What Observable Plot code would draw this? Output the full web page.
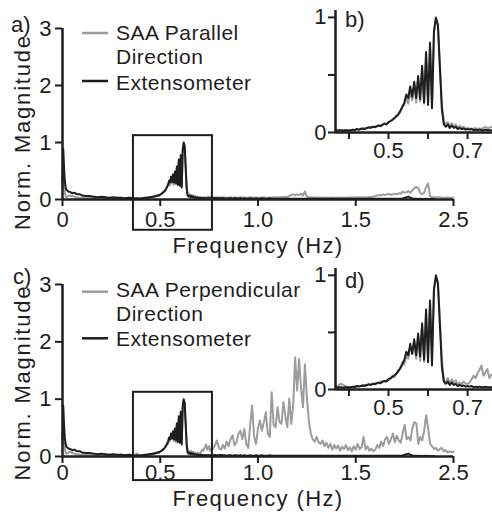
<!DOCTYPE html>
<html><head><meta charset="utf-8">
<script src="https://cdn.jsdelivr.net/npm/d3@7"></script>
<script src="https://cdn.jsdelivr.net/npm/@observablehq/plot@0.6"></script>
<style>
body{margin:0;background:#fff;}
#chart{position:relative;width:492px;height:520px;overflow:hidden;}
#chart svg{position:absolute;left:0;}
.leg{position:absolute;left:116px;font-family:'Liberation Sans',Arial,Helvetica,sans-serif;font-size:21px;line-height:24px;letter-spacing:0.5px;color:#1e1e1e;white-space:nowrap;}
</style></head><body><div id="chart"></div>
<script>
// ---------- data ----------
const freqLow = [0, 0.004, 0.008, 0.012, 0.016, 0.02, 0.03, 0.04, 0.05, 0.06, 0.07, 0.08, 0.09, 0.10, 0.12, 0.14, 0.16, 0.18, 0.20, 0.22, 0.24, 0.26, 0.28, 0.30, 0.32, 0.34];
const freqMid = d3.range(72, 153).map(i => i * 0.005);   // 0.360 .. 0.760 sampling
const freqHigh = d3.range(77, 201).map(i => i / 100);    // 0.77 .. 2.00 sampling

const extLow = [0.30, 0.88, 0.55, 0.32, 0.22, 0.17, 0.14, 0.13, 0.11, 0.12, 0.10, 0.09, 0.09, 0.07, 0.06, 0.06, 0.05, 0.04, 0.05, 0.04, 0.03, 0.04, 0.03, 0.03, 0.02, 0.03];
const extMid = [0.02, 0.02, 0.015, 0.02, 0.02, 0.015, 0.02, 0.02, 0.015, 0.02,
  0.025, 0.02, 0.03, 0.025, 0.03, 0.035, 0.03, 0.04, 0.045, 0.04,
  0.05, 0.045, 0.055, 0.06, 0.055, 0.07, 0.075, 0.07, 0.09, 0.10,
  0.11, 0.125, 0.14, 0.16, 0.19, 0.22, 0.26, 0.33, 0.30, 0.40,
  0.31, 0.44, 0.30, 0.49, 0.29, 0.58, 0.26, 0.70, 0.24, 0.78,
  0.21, 0.88, 1.00, 0.93, 0.56, 0.20, 0.07, 0.05, 0.07, 0.04,
  0.06, 0.04, 0.05, 0.03, 0.04, 0.03, 0.035, 0.025, 0.03, 0.025,
  0.03, 0.02, 0.025, 0.02, 0.025, 0.02, 0.02, 0.025, 0.02, 0.02, 0.02];
const extHigh = [0.02, 0.025, 0.02, 0.02, 0.025, 0.02, 0.02, 0.015, 0.02, 0.02, 0.015, 0.02, 0.02, 0.015, 0.02, 0.015, 0.02, 0.015, 0.015, 0.02, 0.015, 0.015, 0.02,
  0.015, 0.015, 0.02, 0.015, 0.015, 0.015, 0.02, 0.015, 0.015, 0.015,
  0.015, 0.015, 0.012, 0.015, 0.015, 0.012, 0.015, 0.015, 0.012, 0.015,
  0.015, 0.012, 0.015, 0.012, 0.015, 0.012, 0.012, 0.015, 0.012, 0.012,
  0.012, 0.015, 0.012, 0.012, 0.012, 0.015, 0.012, 0.012, 0.012, 0.012,
  0.012, 0.012, 0.015, 0.012, 0.012, 0.012, 0.012, 0.012, 0.015, 0.012,
  0.012, 0.012, 0.012, 0.012, 0.012, 0.012, 0.012, 0.015, 0.012, 0.012,
  0.012, 0.012, 0.012, 0.012, 0.012, 0.012, 0.015, 0.012, 0.012, 0.012,
  0.012, 0.012, 0.012, 0.012, 0.02, 0.03, 0.04, 0.05, 0.03, 0.02,
  0.012, 0.012, 0.01, 0.012, 0.01, 0.01, 0.012, 0.01, 0.01, 0.01,
  0.01];

const parLow = [0.20, 0.62, 0.30, 0.12, 0.06, 0.04, 0.06, 0.07, 0.06, 0.05, 0.04, 0.03, 0.03, 0.03, 0.02, 0.03, 0.02, 0.03, 0.02, 0.03, 0.02, 0.02, 0.03, 0.02, 0.02, 0.03];
const parMid = [0.03, 0.02, 0.025, 0.02, 0.015, 0.02, 0.02, 0.015, 0.02, 0.02,
  0.02, 0.025, 0.03, 0.02, 0.035, 0.03, 0.035, 0.04, 0.04, 0.045,
  0.05, 0.05, 0.05, 0.065, 0.06, 0.065, 0.08, 0.075, 0.085, 0.10,
  0.11, 0.12, 0.15, 0.15, 0.18, 0.23, 0.24, 0.30, 0.25, 0.36,
  0.28, 0.42, 0.26, 0.47, 0.27, 0.55, 0.25, 0.68, 0.26, 0.76,
  0.24, 0.86, 0.99, 0.94, 0.60, 0.24, 0.09, 0.08, 0.09, 0.06,
  0.08, 0.05, 0.07, 0.04, 0.06, 0.04, 0.05, 0.03, 0.04, 0.03,
  0.035, 0.03, 0.04, 0.03, 0.035, 0.03, 0.04, 0.05, 0.04, 0.04, 0.05];
const parHigh = [0.04, 0.03, 0.04, 0.035, 0.03, 0.04, 0.03, 0.035, 0.03, 0.04, 0.03, 0.035, 0.03, 0.03, 0.04, 0.03, 0.035, 0.03, 0.03, 0.04, 0.03, 0.035, 0.03,
  0.03, 0.035, 0.03, 0.04, 0.03, 0.03, 0.035, 0.03, 0.04, 0.035,
  0.04, 0.035, 0.045, 0.04, 0.05, 0.04, 0.06, 0.08, 0.09, 0.07,
  0.09, 0.08, 0.10, 0.07, 0.14, 0.05, 0.04, 0.035, 0.04, 0.03,
  0.035, 0.03, 0.035, 0.03, 0.03, 0.035, 0.03, 0.03, 0.035, 0.03,
  0.03, 0.035, 0.03, 0.03, 0.035, 0.03, 0.03, 0.04, 0.03, 0.035,
  0.03, 0.04, 0.035, 0.04, 0.03, 0.04, 0.035, 0.045, 0.04, 0.05,
  0.06, 0.07, 0.08, 0.07, 0.09, 0.08, 0.09, 0.10, 0.08, 0.09,
  0.10, 0.09, 0.11, 0.10, 0.14, 0.12, 0.13, 0.15, 0.12, 0.16,
  0.20, 0.22, 0.20, 0.12, 0.09, 0.12, 0.22, 0.28, 0.06, 0.04,
  0.04, 0.035, 0.04, 0.03, 0.035, 0.03, 0.03, 0.035, 0.03, 0.03,
  0.03];

const perpLow = [0.20, 0.55, 0.28, 0.12, 0.07, 0.05, 0.07, 0.08, 0.06, 0.05, 0.04, 0.04, 0.03, 0.03, 0.03, 0.02, 0.03, 0.02, 0.03, 0.02, 0.03, 0.02, 0.02, 0.03, 0.02, 0.03];
const perpMid = [0.02, 0.025, 0.03, 0.04, 0.05, 0.04, 0.03, 0.02, 0.025, 0.02,
  0.02, 0.03, 0.025, 0.03, 0.03, 0.035, 0.04, 0.035, 0.05, 0.04,
  0.05, 0.055, 0.05, 0.06, 0.07, 0.065, 0.07, 0.08, 0.085, 0.09,
  0.12, 0.11, 0.14, 0.17, 0.18, 0.24, 0.22, 0.30, 0.27, 0.37,
  0.33, 0.42, 0.27, 0.47, 0.25, 0.56, 0.24, 0.67, 0.28, 0.76,
  0.30, 0.87, 0.98, 0.93, 0.62, 0.26, 0.08, 0.06, 0.10, 0.05,
  0.09, 0.06, 0.08, 0.05, 0.06, 0.05, 0.07, 0.05, 0.05, 0.06,
  0.09, 0.12, 0.10, 0.14, 0.17, 0.21, 0.12, 0.15, 0.18, 0.10, 0.13];
const perpHigh = [0.13, 0.20, 0.28, 0.15, 0.12, 0.20, 0.14, 0.26, 0.18, 0.30, 0.37, 0.19, 0.25, 0.40, 0.45, 0.30, 0.48, 0.22, 0.15, 0.55, 0.89, 0.35, 0.22,
  0.50, 0.63, 0.45, 0.60, 0.77, 0.40, 0.34, 1.12, 0.55, 0.51,
  0.86, 0.60, 0.57, 0.95, 0.70, 0.51, 1.01, 0.57, 0.90, 1.73,
  1.15, 1.70, 1.20, 0.86, 1.61, 1.03, 0.63, 0.40, 0.30, 0.26,
  0.34, 0.25, 0.22, 0.28, 0.18, 0.24, 0.15, 0.22, 0.12, 0.20,
  0.14, 0.19, 0.10, 0.17, 0.13, 0.20, 0.11, 0.16, 0.09, 0.18,
  0.12, 0.22, 0.13, 0.16, 0.34, 0.12, 0.18, 0.10, 0.14, 0.09,
  0.12, 0.20, 0.15, 0.26, 0.18, 0.30, 0.34, 0.22, 0.30, 0.40,
  0.25, 0.36, 0.28, 0.24, 0.40, 0.55, 0.30, 0.34, 0.28, 0.50,
  0.60, 0.58, 0.22, 0.34, 0.28, 0.45, 0.72, 0.50, 0.22, 0.18,
  0.13, 0.15, 0.10, 0.13, 0.15, 0.09, 0.11, 0.07, 0.09, 0.08,
  0.08];

const mainXTicks = [0, 0.5, 1.0, 1.5, 2.0];
const mainXLabels = ["0", "0.5", "1.0", "1.5", "2.5"];
const mainYTicks = [0, 1, 2, 3];
const mainYLabels = ["0", "1", "2", "3"];
const insetXTicks = [0.4, 0.5, 0.6, 0.7];
const insetXLabels = ["", "0.5", "", "0.7"];
const insetYTicks = [0, 0.5, 1];
const insetYLabels = ["0", "", "1"];
const zoomWindow = [0.366, 0.763];
const boxA = [{x1: 0.363, x2: 0.767, y1: -0.54, y2: 1.12}];
const boxC = [{x1: 0.363, x2: 0.767, y1: -0.42, y2: 1.12}];
const legendA = ["SAA Parallel", "Direction", "Extensometer"];
const legendC = ["SAA Perpendicular", "Direction", "Extensometer"];

// ---------- table ----------
const freq = [...freqLow, ...freqMid, ...freqHigh];
const ext = [...extLow, ...extMid, ...extHigh];
const par = [...parLow, ...parMid, ...parHigh];
const perp = [...perpLow, ...perpMid, ...perpHigh];
const rows = freq.map((f, i) => ({f, ext: ext[i], par: par[i], perp: perp[i]}));

const FONT = "'Liberation Sans', Arial, Helvetica, sans-serif";
const INK = "#1e1e1e", GRAY = "#9c9c9c";
const baseStyle = {background: "transparent", fontFamily: FONT, fontSize: "22px", color: INK, overflow: "visible"};
const lookup = (ticks, labels) => d => labels[ticks.indexOf(d)];

function mainPanel({saa, height, mt, mb, tickPad, box}) {
  return Plot.plot({
    width: 492, height, marginLeft: 62, marginRight: 39, marginTop: mt, marginBottom: mb,
    style: baseStyle,
    x: {domain: [0, 2]},
    y: {domain: [0, 3]},
    marks: [
      Plot.line(rows, {x: "f", y: saa, stroke: GRAY, strokeWidth: 2}),
      Plot.line(rows, {x: "f", y: "ext", stroke: INK, strokeWidth: 2}),
      Plot.rect(box, {x1: "x1", x2: "x2", y1: "y1", y2: "y2", fill: "none", stroke: INK, strokeWidth: 2}),
      Plot.ruleY([0], {stroke: INK, strokeWidth: 2.5}),
      Plot.ruleX([0], {stroke: INK, strokeWidth: 2.5}),
      Plot.axisX({ticks: mainXTicks, tickFormat: lookup(mainXTicks, mainXLabels), tickSize: 7, tickPadding: tickPad, strokeWidth: 2, label: null}),
      Plot.axisY({ticks: mainYTicks, tickFormat: lookup(mainYTicks, mainYLabels), tickSize: 7, tickPadding: 4, strokeWidth: 2, label: null})
    ]
  });
}

function insetPanel({saa, height, mt, mb}) {
  return Plot.plot({
    width: 492, height, marginLeft: 335, marginRight: 0, marginTop: mt, marginBottom: mb,
    style: baseStyle,
    x: {domain: zoomWindow},
    y: {domain: [0, 1.06]},
    marks: [
      Plot.line(rows, {x: "f", y: saa, stroke: GRAY, strokeWidth: 2, clip: true}),
      Plot.line(rows, {x: "f", y: "ext", stroke: INK, strokeWidth: 2, clip: true}),
      Plot.ruleY([0], {stroke: INK, strokeWidth: 2.5}),
      Plot.ruleX([zoomWindow[0]], {stroke: INK, strokeWidth: 2.5}),
      Plot.axisX({ticks: insetXTicks, tickFormat: lookup(insetXTicks, insetXLabels), tickSize: 7, tickPadding: 3, strokeWidth: 2, label: null}),
      Plot.axisY({ticks: insetYTicks, tickFormat: lookup(insetYTicks, insetYLabels), tickSize: 7, tickPadding: 2, strokeWidth: 2, label: null})
    ]
  });
}

function addText(svg, txt, x, y, opts = {}) {
  const t = d3.select(svg).append("text").text(txt)
    .attr("x", x).attr("y", y)
    .attr("fill", INK).attr("font-family", FONT).attr("font-size", opts.size || 22)
    .attr("text-anchor", opts.anchor || "start");
  if (opts.spacing) t.attr("letter-spacing", opts.spacing);
  if (opts.rotate) t.attr("transform", `rotate(${opts.rotate},${x},${y})`);
  return t;
}
function addLegendLine(svg, x1, x2, y, color) {
  d3.select(svg).append("line").attr("x1", x1).attr("x2", x2).attr("y1", y).attr("y2", y)
    .attr("stroke", color).attr("stroke-width", 2.5);
}
function addLegendText(html, top) {
  const div = document.createElement("div");
  div.className = "leg";
  div.style.top = top + "px";
  div.innerHTML = html;
  chart.appendChild(div);
}

const chart = document.getElementById("chart");

// Panel a
const a = mainPanel({saa: "par", height: 260, mt: 28, mb: 61, tickPad: 5, box: boxA});
a.style.top = "0px";
addText(a, "a)", 11, 32);
addText(a, "Norm. Magnitude", 30, 132, {anchor: "middle", rotate: -90, spacing: "1.8px"});
addText(a, "Frequency (Hz)", 258, 253, {anchor: "middle", spacing: "1.4px"});
addLegendLine(a, 82, 108, 33, GRAY);
addLegendLine(a, 82, 108, 81, INK);
chart.appendChild(a);

// Inset b
const b = insetPanel({saa: "par", height: 160, mt: 10, mb: 28});
b.style.top = "0px";
addText(b, "b)", 345, 27);
chart.appendChild(b);

// Panel c
const c = mainPanel({saa: "perp", height: 260, mt: 24, mb: 64, tickPad: 1, box: boxC});
c.style.top = "260px";
addText(c, "c)", 13, 23.5);
addText(c, "Norm. Magnitude", 30, 122.5, {anchor: "middle", rotate: -90, spacing: "1.8px"});
addText(c, "Frequency (Hz)", 258, 246, {anchor: "middle", spacing: "1.4px"});
addLegendLine(c, 82, 108, 31.7, GRAY);
addLegendLine(c, 82, 108, 78.3, INK);
chart.appendChild(c);

// Inset d
const dd = insetPanel({saa: "perp", height: 160, mt: 8, mb: 31});
dd.style.top = "260px";
addText(dd, "d)", 345, 28);
chart.appendChild(dd);

// Legend texts (HTML)
addLegendText(legendA[0] + "<br>" + legendA[1], 21.2);
addLegendText(legendA[2], 70.7);
addLegendText(legendC[0] + "<br>" + legendC[1], 278.2);
addLegendText(legendC[2], 327.4);
</script></body></html>
